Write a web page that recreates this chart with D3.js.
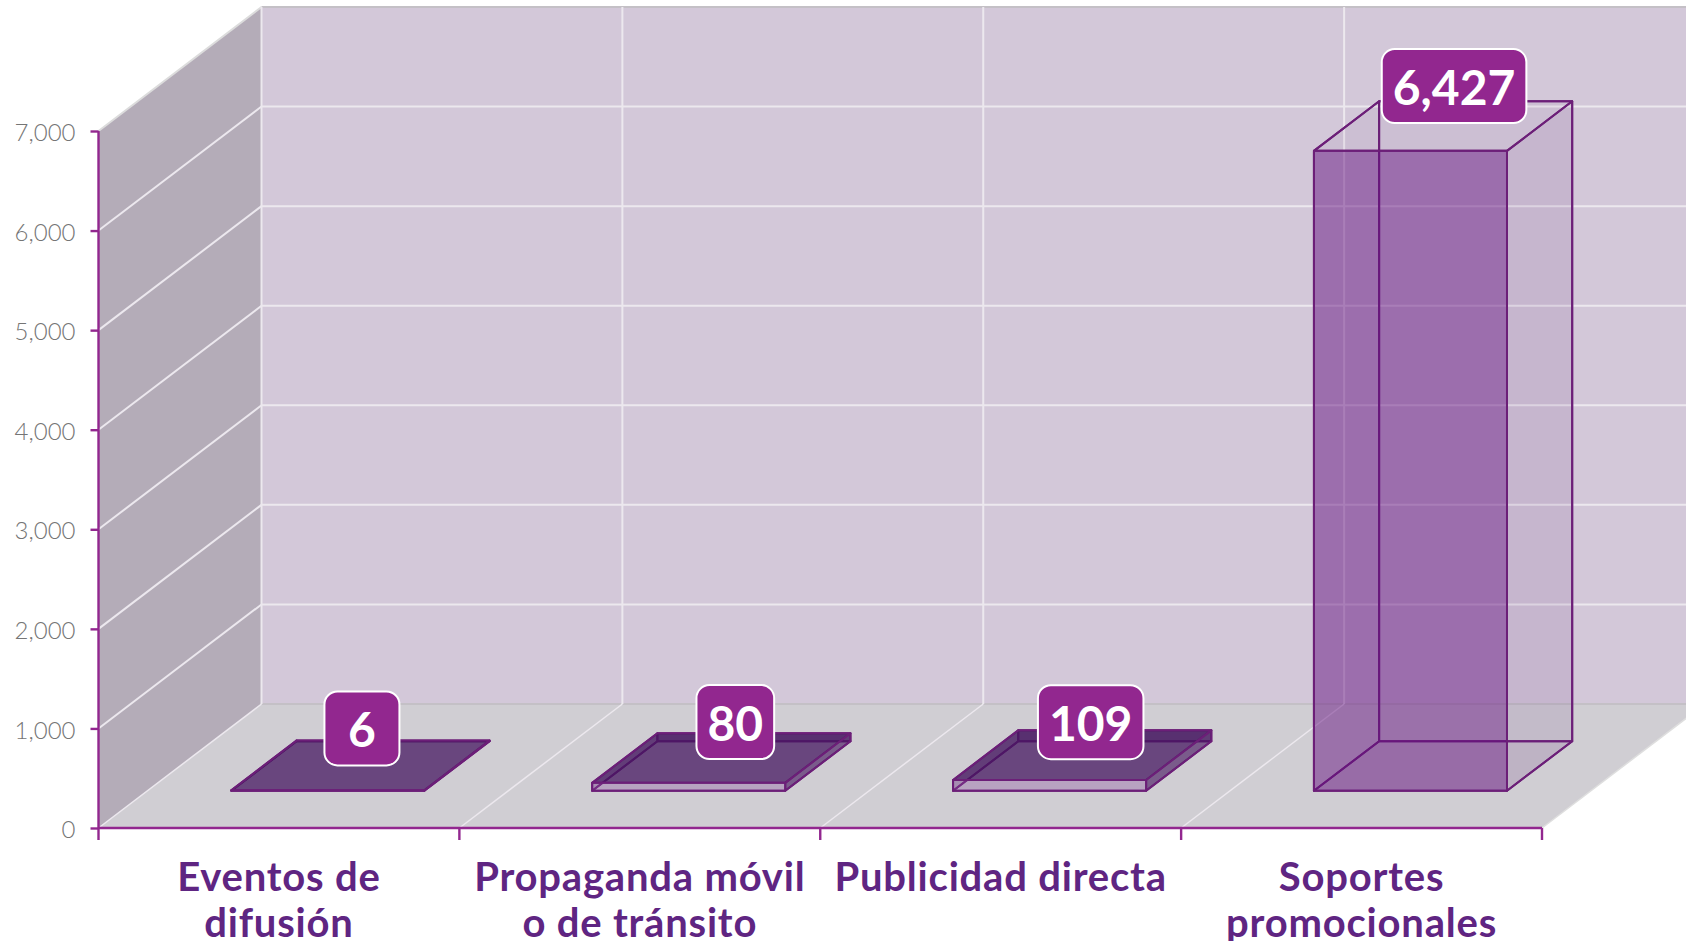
<!DOCTYPE html>
<html><head><meta charset="utf-8">
<script src="https://cdn.jsdelivr.net/npm/d3@7/dist/d3.min.js"></script>
<style>html,body{margin:0;padding:0;background:#fff;overflow:hidden}svg{display:block}</style>
</head><body><svg id="c" width="1686" height="941"></svg>
<script>
const categories = ["Eventos de|difusión","Propaganda móvil|o de tránsito","Publicidad directa","Soportes|promocionales"];
const values = [6,80,109,6427];
const yTicks = [0,1000,2000,3000,4000,5000,6000,7000];
const labelShiftX = [1.5,14,8.5,11];
const labelShiftY = [-37,-36,-33,-40];

const svg = d3.select("#c");
const fmt = d3.format(",");
const x = d3.scaleBand().domain(categories).range([98.5,1542]);
const y = d3.scaleLinear().domain([0,7000]).range([828,131]);
const DX = 163, DY = -124;
const P = (px,v,z)=>[px+DX*z, y(v)+DY*z];
const poly = pts => "M"+pts.map(p=>p.join(",")).join("L")+"Z";

const WALL="#d3c8d9", SIDE="#b4acb8", FLOOR="#d0ced3", GRID="#ece8ee", AXIS="#92278f", STROKE="#6c1f78";
const xL=x.range()[0], xR=x.range()[1], vMax=y.domain()[1];

// walls
const g = svg.append("g");
g.append("path").attr("d",poly([P(xL,0,1),P(xR,0,1),P(xR,vMax,1),P(xL,vMax,1)])).attr("fill",WALL);
g.append("path").attr("d",poly([P(xL,0,0),P(xL,0,1),P(xL,vMax,1),P(xL,vMax,0)])).attr("fill",SIDE);
g.append("path").attr("d",poly([P(xL,0,0),P(xR,0,0),P(xR,0,1),P(xL,0,1)])).attr("fill",FLOOR);

// grid
const line=(a,b,c,w)=>g.append("line").attr("x1",a[0]).attr("y1",a[1]).attr("x2",b[0]).attr("y2",b[1]).attr("stroke",c).attr("stroke-width",w);
yTicks.forEach(t=>{
  const c = t===7000||t===0 ? "#c4c0c6" : GRID;
  line(P(xL,t,1),P(xR,t,1),c,2);
  if(t>0) line(P(xL,t,0),P(xL,t,1),t===7000?"#dcdcdc":GRID,2);
});
line(P(xL,0,0),P(xL,0,1),GRID,1.5);
[...categories.map(c=>x(c)),xR].forEach((px,i)=>{
  if(i>0){ line(P(px,0,0),P(px,0,1),i===categories.length?"#dedede":GRID,1.5);}
  line(P(px,0,1),P(px,vMax,1),GRID,2);
});

// bars
const barFrac=.535, z0=.3, z1=.7;
const bw=x.bandwidth()*barFrac, off=(x.bandwidth()-bw)/2;
const bars = svg.append("g");
categories.forEach((c,i)=>{
  const v=values[i], a=x(c)+off, b=a+bw, flat=v<1000;
  const face=(pts,fill,op)=>bars.append("path").attr("d",poly(pts)).attr("fill",fill).attr("fill-opacity",op)
     .attr("stroke",STROKE).attr("stroke-width",2).attr("stroke-linejoin","round");
  const dark="#43135e", tint="#5a1a78";
  face([P(a,0,z1),P(b,0,z1),P(b,v,z1),P(a,v,z1)],flat?dark:tint,flat?.45:.03); // back
  face([P(a,0,z0),P(a,0,z1),P(a,v,z1),P(a,v,z0)],flat?dark:tint,flat?.2:.03);  // left
  face([P(a,0,z0),P(b,0,z0),P(b,0,z1),P(a,0,z1)],tint,flat?.03:.08);           // bottom
  face([P(b,0,z0),P(b,0,z1),P(b,v,z1),P(b,v,z0)],flat?dark:tint,flat?.6:.07);  // right
  face([P(a,v,z0),P(b,v,z0),P(b,v,z1),P(a,v,z1)],flat?dark:tint,flat?.72:.02); // top
  face([P(a,0,z0),P(b,0,z0),P(b,v,z0),P(a,v,z0)],flat?"#8a50a0":"#630f7f",flat?.3:.47); // front
});

// axes
const ax = svg.append("g").attr("transform",`translate(${xL},0)`)
  .call(d3.axisLeft(y).tickValues(yTicks).tickFormat(fmt).tickSize(8).tickPadding(15));
ax.select(".domain").attr("stroke",AXIS).attr("stroke-width",2.4).attr("d",`M0,${y(7000)}V${y(0)}`);
ax.selectAll(".tick line").attr("stroke",AXIS).attr("stroke-width",2.4);
ax.selectAll(".tick text").attr("font-family","Lato").attr("font-weight",300).attr("font-size",24).attr("fill","#757575").attr("dy","0.4em");

const bx = svg.append("g").attr("transform",`translate(0,${y(0)})`);
bx.append("line").attr("x1",xL).attr("x2",xR).attr("stroke",AXIS).attr("stroke-width",2.4);
[...categories.map(c=>x(c)),xR].forEach(px=>bx.append("line").attr("x1",px).attr("x2",px).attr("y2",12).attr("stroke",AXIS).attr("stroke-width",2.4));

// category labels
categories.forEach(c=>{
  c.split("|").forEach((t,j)=>{
    svg.append("text").attr("x",x(c)+x.bandwidth()/2).attr("y",891+j*46).attr("text-anchor","middle")
      .attr("font-family","Lato").attr("font-weight",700).attr("font-size",40).attr("letter-spacing",.8).attr("fill","#5f2582").text(t);
  });
});

// data labels
categories.forEach((c,i)=>{
  const v=values[i];
  const cx=x(c)+x.bandwidth()/2+DX*.5+labelShiftX[i], top=P(0,v,.5)[1]+labelShiftY[i];
  const lg=svg.append("g");
  const r=lg.append("rect").attr("fill","#92278f").attr("stroke","#fff").attr("stroke-width",2).attr("rx",13);
  const t=lg.append("text").attr("x",cx).attr("y",top+19).attr("text-anchor","middle")
    .attr("font-family","Lato").attr("font-weight",700).attr("font-size",48).attr("fill","#fff").text(fmt(v));
  const w=Math.max(75,t.node().getComputedTextLength()+22);
  r.attr("x",cx-w/2).attr("y",top-37).attr("width",w).attr("height",74);
});
</script></body></html>
